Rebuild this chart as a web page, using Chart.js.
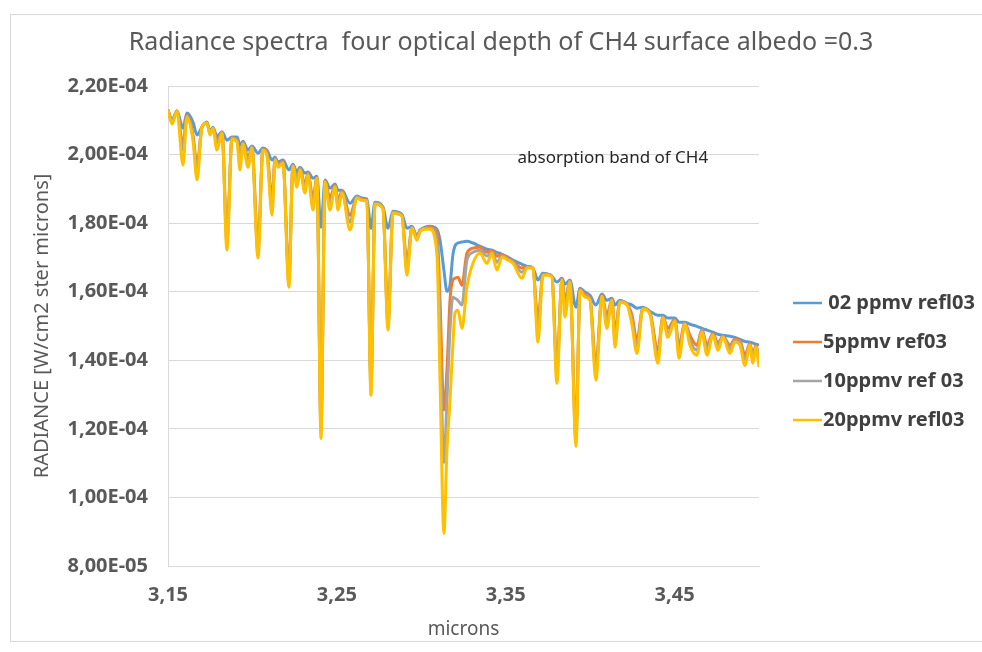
<!DOCTYPE html>
<html>
<head>
<meta charset="utf-8">
<title>Radiance spectra</title>
<script src="https://cdn.jsdelivr.net/npm/chart.js@4.4.0/dist/chart.umd.min.js"></script>
<style>
  html, body { margin: 0; padding: 0; background: #fff; }
  #wrap { position: relative; width: 982px; height: 652px; }
</style>
</head>
<body>
<div id="wrap"><canvas id="chart" width="982" height="652"></canvas></div>
<script>
// wavelength, microns
const wavelength = [
  3.1500, 3.1524, 3.1553, 3.1589, 3.1612, 3.1648, 3.1672, 3.1701, 3.1731, 3.1749,
  3.1766, 3.1790, 3.1820, 3.1849, 3.1879, 3.1909, 3.1926, 3.1944, 3.1974, 3.1997,
  3.2033, 3.2062, 3.2086, 3.2116, 3.2134, 3.2151, 3.2181, 3.2216, 3.2240, 3.2264,
  3.2282, 3.2311, 3.2329, 3.2359, 3.2382, 3.2406, 3.2430, 3.2459, 3.2489, 3.2507,
  3.2530, 3.2578, 3.2619, 3.2649, 3.2678, 3.2702, 3.2726, 3.2773, 3.2803, 3.2832,
  3.2885, 3.2915, 3.2945, 3.2974, 3.2992, 3.3022, 3.3051, 3.3093, 3.3111, 3.3134,
  3.3152, 3.3170, 3.3187, 3.3199, 3.3217, 3.3241, 3.3270, 3.3306, 3.3347, 3.3389,
  3.3418, 3.3448, 3.3478, 3.3513, 3.3543, 3.3596, 3.3626, 3.3661, 3.3691, 3.3720,
  3.3750, 3.3774, 3.3803, 3.3833, 3.3851, 3.3880, 3.3916, 3.3940, 3.3969, 3.3999,
  3.4034, 3.4070, 3.4099, 3.4129, 3.4147, 3.4176, 3.4218, 3.4248, 3.4277, 3.4312,
  3.4354, 3.4401, 3.4431, 3.4460, 3.4502, 3.4526, 3.4561, 3.4591, 3.4632, 3.4662,
  3.4692, 3.4727, 3.4757, 3.4786, 3.4828, 3.4857, 3.4887, 3.4917, 3.4946, 3.4964,
  3.4982, 3.5000
];

// radiance, in units of 1E-04 W/cm2 ster microns
const ppmv02 = [
  2.130, 2.101, 2.127, 2.077, 2.121, 2.095, 2.057, 2.080, 2.095, 2.066,
  2.080, 2.054, 2.066, 2.042, 2.051, 2.051, 2.028, 2.039, 2.013, 2.025,
  2.004, 2.019, 2.013, 1.984, 1.993, 1.978, 1.984, 1.955, 1.972, 1.949,
  1.963, 1.946, 1.949, 1.931, 1.937, 1.788, 1.926, 1.902, 1.914, 1.896,
  1.896, 1.858, 1.879, 1.873, 1.870, 1.785, 1.861, 1.847, 1.785, 1.835,
  1.826, 1.785, 1.791, 1.762, 1.780, 1.788, 1.791, 1.782, 1.750, 1.663,
  1.601, 1.619, 1.707, 1.733, 1.742, 1.745, 1.747, 1.742, 1.733, 1.724,
  1.721, 1.715, 1.709, 1.701, 1.692, 1.680, 1.674, 1.669, 1.634, 1.654,
  1.651, 1.645, 1.628, 1.639, 1.622, 1.634, 1.555, 1.610, 1.599, 1.590,
  1.561, 1.593, 1.575, 1.581, 1.561, 1.575, 1.566, 1.561, 1.552, 1.555,
  1.543, 1.531, 1.531, 1.523, 1.523, 1.511, 1.511, 1.505, 1.499, 1.493,
  1.488, 1.482, 1.476, 1.473, 1.470, 1.467, 1.461, 1.455, 1.453, 1.450,
  1.447, 1.444
];
const ppmv05 = [
  2.130, 2.095, 2.127, 2.028, 2.115, 2.057, 1.969, 2.080, 2.092, 2.063,
  2.077, 2.042, 2.066, 1.765, 2.048, 2.045, 1.990, 2.036, 1.990, 2.022,
  1.736, 2.016, 2.007, 1.867, 1.990, 1.972, 1.981, 1.648, 1.969, 1.926,
  1.961, 1.911, 1.946, 1.873, 1.934, 1.225, 1.923, 1.873, 1.911, 1.867,
  1.893, 1.823, 1.876, 1.870, 1.867, 1.342, 1.858, 1.844, 1.523, 1.832,
  1.823, 1.686, 1.788, 1.759, 1.777, 1.785, 1.788, 1.774, 1.575, 1.255,
  1.371, 1.575, 1.634, 1.639, 1.642, 1.619, 1.712, 1.727, 1.730, 1.715,
  1.721, 1.704, 1.707, 1.698, 1.689, 1.669, 1.672, 1.669, 1.517, 1.651,
  1.651, 1.645, 1.385, 1.636, 1.575, 1.631, 1.196, 1.607, 1.593, 1.584,
  1.385, 1.590, 1.531, 1.578, 1.482, 1.572, 1.564, 1.531, 1.458, 1.552,
  1.540, 1.429, 1.528, 1.493, 1.520, 1.444, 1.508, 1.473, 1.444, 1.490,
  1.444, 1.479, 1.450, 1.470, 1.444, 1.461, 1.458, 1.415, 1.450, 1.415,
  1.444, 1.406
];
const ppmv10 = [
  2.130, 2.095, 2.127, 2.013, 2.112, 2.048, 1.949, 2.080, 2.092, 2.060,
  2.077, 2.034, 2.063, 1.745, 2.048, 2.042, 1.975, 2.034, 1.978, 2.022,
  1.715, 2.013, 2.001, 1.844, 1.987, 1.969, 1.978, 1.628, 1.969, 1.917,
  1.958, 1.899, 1.943, 1.855, 1.931, 1.196, 1.920, 1.855, 1.908, 1.853,
  1.891, 1.803, 1.876, 1.867, 1.867, 1.318, 1.858, 1.844, 1.505, 1.832,
  1.823, 1.669, 1.788, 1.756, 1.777, 1.785, 1.785, 1.750, 1.488, 1.102,
  1.283, 1.488, 1.584, 1.581, 1.575, 1.561, 1.692, 1.715, 1.721, 1.704,
  1.715, 1.686, 1.704, 1.695, 1.686, 1.657, 1.672, 1.669, 1.488, 1.648,
  1.651, 1.645, 1.362, 1.634, 1.552, 1.631, 1.166, 1.604, 1.590, 1.578,
  1.365, 1.587, 1.511, 1.575, 1.458, 1.572, 1.564, 1.517, 1.438, 1.552,
  1.537, 1.409, 1.526, 1.479, 1.517, 1.423, 1.508, 1.458, 1.429, 1.488,
  1.429, 1.476, 1.441, 1.470, 1.432, 1.458, 1.453, 1.400, 1.447, 1.403,
  1.441, 1.394
];
const ppmv20 = [
  2.130, 2.089, 2.127, 1.969, 2.109, 2.042, 1.926, 2.080, 2.092, 2.057,
  2.077, 2.013, 2.063, 1.721, 2.045, 2.036, 1.955, 2.031, 1.963, 2.019,
  1.698, 2.013, 1.996, 1.823, 1.984, 1.963, 1.975, 1.613, 1.966, 1.905,
  1.955, 1.888, 1.940, 1.838, 1.931, 1.172, 1.920, 1.838, 1.905, 1.838,
  1.888, 1.780, 1.873, 1.867, 1.864, 1.298, 1.855, 1.841, 1.488, 1.829,
  1.820, 1.648, 1.785, 1.750, 1.774, 1.782, 1.782, 1.707, 1.342, 0.895,
  1.137, 1.283, 1.444, 1.537, 1.546, 1.493, 1.613, 1.683, 1.712, 1.683,
  1.712, 1.663, 1.701, 1.692, 1.683, 1.639, 1.669, 1.669, 1.453, 1.648,
  1.648, 1.642, 1.333, 1.634, 1.526, 1.628, 1.149, 1.604, 1.584, 1.575,
  1.342, 1.587, 1.493, 1.575, 1.438, 1.569, 1.561, 1.502, 1.420, 1.549,
  1.534, 1.391, 1.523, 1.467, 1.514, 1.406, 1.505, 1.444, 1.415, 1.482,
  1.415, 1.473, 1.429, 1.467, 1.420, 1.453, 1.444, 1.385, 1.444, 1.391,
  1.438, 1.380
];

const seriesNames = [' 02 ppmv refl03', '5ppmv ref03', '10ppmv ref 03', '20ppmv refl03'];
const seriesColors = ['#5B9BD5', '#ED7D31', '#A5A5A5', '#FFC000'];
const xTicks = [3.15, 3.25, 3.35, 3.45];
const yTicks = [0.8, 1.0, 1.2, 1.4, 1.6, 1.8, 2.0, 2.2];
const UNIT = 1e-4;

const FONT = "'Noto Sans', 'Open Sans', sans-serif";
const TEXT = '#595959';

// 2.2e-4 -> "2,20E-04"
function fmtE(v) {
  const parts = v.toExponential(2).split('e');
  const n = parseInt(parts[1], 10);
  return parts[0].replace('.', ',') + 'E' + (n < 0 ? '-' : '+') + String(Math.abs(n)).padStart(2, '0');
}

const series = [ppmv02, ppmv05, ppmv10, ppmv20];
const datasets = series.map((vals, i) => ({
  label: seriesNames[i],
  data: vals.map((v, k) => ({ x: wavelength[k], y: v * UNIT })),
  borderColor: seriesColors[i],
  backgroundColor: seriesColors[i],
  borderWidth: 3,
  pointRadius: 0,
  cubicInterpolationMode: 'monotone',
  order: 3 - i
}));

// outer frame of the chart
const framePlugin = {
  id: 'frame',
  beforeDraw(chart) {
    const ctx = chart.ctx;
    ctx.save();
    ctx.strokeStyle = '#d9d9d9';
    ctx.lineWidth = 1;
    ctx.strokeRect(10.5, 14.5, 985, 627);
    ctx.restore();
  }
};

// legend on the right + note inside the plot
const notePlugin = {
  id: 'notes',
  afterDraw(chart) {
    const ctx = chart.ctx;
    ctx.save();
    chart.data.datasets.forEach((ds, i) => {
      const y = 303 + i * 39;
      ctx.strokeStyle = ds.borderColor;
      ctx.lineWidth = 2.5;
      ctx.beginPath();
      ctx.moveTo(793, y);
      ctx.lineTo(822, y);
      ctx.stroke();
      ctx.fillStyle = '#404040';
      ctx.font = 'bold 20px ' + FONT;
      ctx.textBaseline = 'middle';
      ctx.textAlign = 'left';
      ctx.fillText(ds.label, 823, y);
    });
    const xs = chart.scales.x, ys = chart.scales.y;
    ctx.fillStyle = '#262626';
    ctx.font = '17px ' + FONT;
    ctx.textBaseline = 'middle';
    ctx.fillText('absorption band of CH4', xs.getPixelForValue(3.357), ys.getPixelForValue(1.99 * UNIT));
    ctx.restore();
  }
};

new Chart(document.getElementById('chart'), {
  type: 'line',
  data: { datasets: datasets },
  options: {
    responsive: false,
    animation: false,
    layout: { padding: { left: 20, right: 0, top: 0, bottom: 0 } },
    plugins: {
      legend: { display: false },
      tooltip: { enabled: false },
      title: {
        display: true,
        text: 'Radiance spectra  four optical depth of CH4 surface albedo =0.3',
        color: TEXT,
        font: { family: FONT, size: 25, weight: 'normal' },
        padding: { top: 28, bottom: 28 }
      }
    },
    scales: {
      x: {
        type: 'linear',
        min: 3.15,
        max: 3.5,
        afterBuildTicks: axis => { axis.ticks = xTicks.map(v => ({ value: v })); },
        afterFit: axis => { axis.height = 86; },
        grid: { display: false, drawTicks: false },
        border: { display: true, color: '#d9d9d9', width: 1 },
        ticks: {
          padding: 17,
          color: TEXT,
          maxRotation: 0,
          autoSkip: false,
          font: { family: FONT, size: 20, weight: 'bold' },
          callback: v => v.toFixed(2).replace('.', ',')
        },
        title: {
          display: true,
          text: 'microns',
          color: TEXT,
          font: { family: FONT, size: 19 },
          padding: { top: 0, bottom: 11 }
        }
      },
      y: {
        min: 0.8 * UNIT,
        max: 2.2 * UNIT,
        afterBuildTicks: axis => { axis.ticks = yTicks.map(v => ({ value: v * UNIT })); },
        afterFit: axis => { axis.width = 148; },
        grid: { color: '#d9d9d9', lineWidth: 1, drawTicks: false },
        border: { display: true, color: '#d9d9d9', width: 1 },
        ticks: {
          padding: 20,
          color: TEXT,
          font: { family: FONT, size: 20, weight: 'bold' },
          callback: v => fmtE(v)
        },
        title: {
          display: true,
          text: 'RADIANCE [W/cm2 ster microns]',
          color: TEXT,
          font: { family: FONT, size: 20 },
          padding: { top: 10, bottom: 0 }
        }
      },
      // empty box that keeps room for the legend
      yRight: {
        position: 'right',
        min: 0,
        max: 1,
        grid: { display: false, drawTicks: false },
        border: { display: false },
        ticks: { display: false },
        afterFit: axis => { axis.width = 223; }
      }
    }
  },
  plugins: [framePlugin, notePlugin]
});
</script>
</body>
</html>
